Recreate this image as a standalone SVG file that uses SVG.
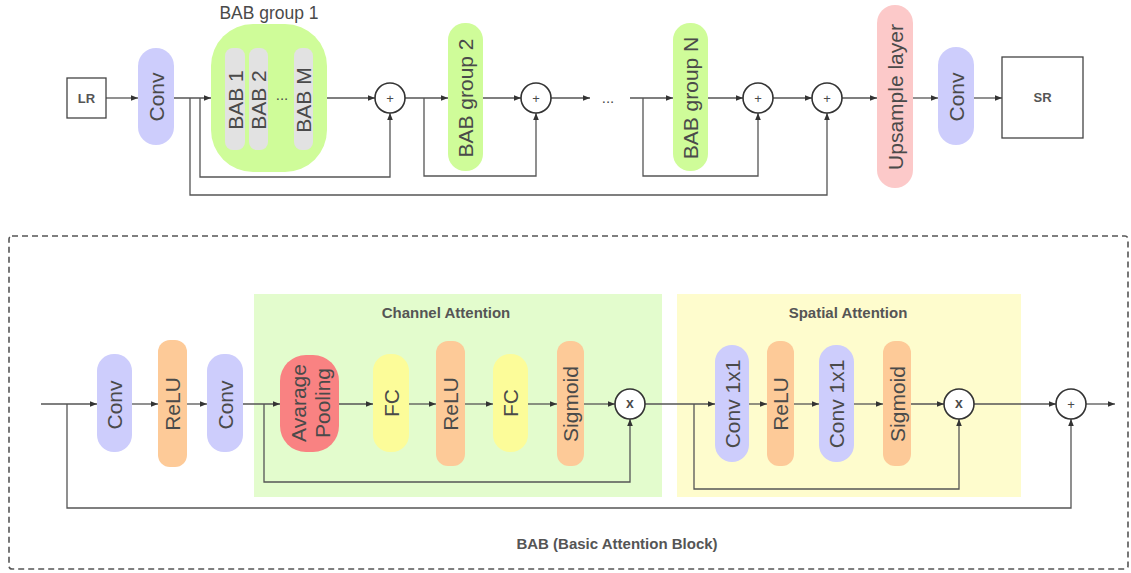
<svg xmlns="http://www.w3.org/2000/svg" width="1131" height="573" viewBox="0 0 1131 573">
<style>
.ln{fill:none;stroke:#555;stroke-width:1.3}
.op{fill:#fff;stroke:#333;stroke-width:1.6}
.t{font-family:"Liberation Sans",Arial,sans-serif;fill:#4a4a4a;text-anchor:middle;dominant-baseline:central}
.v{font-size:21px}
.s{font-size:13px;font-weight:bold;fill:#555}
.h{font-size:15px;font-weight:bold;fill:#555}
.conv{fill:#cdcdfc}
.relu{fill:#fdca98}
.grn{fill:#cffc99}
.gry{fill:#e2e2e2}
.fc{fill:#fcfc99}
</style>
<defs>
<marker id="a" viewBox="0 0 10 10" refX="10" refY="5" markerWidth="7" markerHeight="7" orient="auto" markerUnits="userSpaceOnUse"><path d="M0,1 L10,5 L0,9 z" fill="#333"/></marker>
</defs>
<rect x="9" y="236" width="1119" height="333" fill="none" stroke="#555" stroke-width="1.6" stroke-dasharray="6,4" rx="3"/>
<rect id="ca_bg" x="254" y="294" width="408" height="203" fill="#e3fccd"/>
<rect id="sa_bg" x="677" y="294" width="344" height="203" fill="#fefccd"/>
<text class="t h" x="446" y="312">Channel Attention</text>
<text class="t h" x="848" y="312">Spatial Attention</text>
<text class="t h" x="617" y="543" fill="#666">BAB (Basic Attention Block)</text>

<g id="connectors">
<path class="ln" d="M106,98 H138" marker-end="url(#a)"/>
<path class="ln" d="M174,98 H211" marker-end="url(#a)"/>
<path class="ln" d="M200,98 V177 H390 V113" marker-end="url(#a)"/>
<path class="ln" d="M190,98 V195 H827 V113" marker-end="url(#a)"/>
<path class="ln" d="M327,98 H375" marker-end="url(#a)"/>
<path class="ln" d="M405,98 H448" marker-end="url(#a)"/>
<path class="ln" d="M424,98 V176 H536 V113" marker-end="url(#a)"/>
<path class="ln" d="M483,98 H521" marker-end="url(#a)"/>
<path class="ln" d="M551,98 H590" marker-end="url(#a)"/>
<path class="ln" d="M630,98 H673" marker-end="url(#a)"/>
<path class="ln" d="M643,98 V176 H758 V113" marker-end="url(#a)"/>
<path class="ln" d="M708,98 H743" marker-end="url(#a)"/>
<path class="ln" d="M773,98 H812" marker-end="url(#a)"/>
<path class="ln" d="M842,98 H877" marker-end="url(#a)"/>
<path class="ln" d="M913,98 H938" marker-end="url(#a)"/>
<path class="ln" d="M974,98 H1002" marker-end="url(#a)"/>

<path class="ln" d="M41,404 H97" marker-end="url(#a)"/>
<path class="ln" d="M67,404 V508 H1071 V419" marker-end="url(#a)"/>
<path class="ln" d="M132,404 H158" marker-end="url(#a)"/>
<path class="ln" d="M187,404 H207" marker-end="url(#a)"/>
<path class="ln" d="M243,404 H280" marker-end="url(#a)"/>
<path class="ln" d="M264,404 V482 H630 V419" marker-end="url(#a)"/>
<path class="ln" d="M339,404 H373" marker-end="url(#a)"/>
<path class="ln" d="M409,404 H436" marker-end="url(#a)"/>
<path class="ln" d="M465,404 H493" marker-end="url(#a)"/>
<path class="ln" d="M528,404 H557" marker-end="url(#a)"/>
<path class="ln" d="M584,404 H615" marker-end="url(#a)"/>
<path class="ln" d="M645,404 H715" marker-end="url(#a)"/>
<path class="ln" d="M694,404 V489 H959 V419" marker-end="url(#a)"/>
<path class="ln" d="M749,404 H767" marker-end="url(#a)"/>
<path class="ln" d="M794,404 H819" marker-end="url(#a)"/>
<path class="ln" d="M854,404 H883" marker-end="url(#a)"/>
<path class="ln" d="M911,404 H944" marker-end="url(#a)"/>
<path class="ln" d="M974,404 H1056" marker-end="url(#a)"/>
<path class="ln" d="M1086,404 H1115" marker-end="url(#a)"/>
</g>

<g id="lr"><rect x="67" y="78" width="39" height="40" fill="#fff" stroke="#444" stroke-width="1.3"/><text class="t s" x="86.5" y="98">LR</text></g>
<g id="conv_top1"><rect class="conv" x="138" y="48" width="36" height="97" rx="18"/><text class="t v" transform="translate(156,97) rotate(-90)">Conv</text></g>
<g id="bab_group1">
<rect class="grn" x="211" y="24" width="116" height="148" rx="42"/>
<text class="t" x="269" y="13" font-size="17.5">BAB group 1</text>
<rect class="gry" x="225" y="48" width="20" height="102" rx="8"/>
<text class="t v" transform="translate(235,100) rotate(-90)">BAB 1</text>
<rect class="gry" x="249" y="48" width="19" height="102" rx="8"/>
<text class="t v" transform="translate(258.5,100) rotate(-90)">BAB 2</text>
<text class="t" x="282" y="94" font-size="15">...</text>
<rect class="gry" x="294" y="48" width="19" height="102" rx="8"/>
<text class="t v" transform="translate(303.5,100) rotate(-90)">BAB M</text>
</g>
<g id="add1"><circle class="op" cx="390" cy="98" r="15"/><text class="t" x="390" y="98" font-size="13">+</text></g>
<g id="bab_group2"><rect class="grn" x="448" y="23" width="35" height="148" rx="17"/><text class="t v" transform="translate(465.5,98) rotate(-90)">BAB group 2</text></g>
<g id="add2"><circle class="op" cx="536" cy="98" r="15"/><text class="t" x="536" y="98" font-size="13">+</text></g>
<text class="t" x="608" y="97" font-size="15">...</text>
<g id="bab_groupN"><rect class="grn" x="673" y="23" width="35" height="148" rx="17"/><text class="t v" transform="translate(690.5,98) rotate(-90)">BAB group N</text></g>
<g id="add3"><circle class="op" cx="758" cy="98" r="15"/><text class="t" x="758" y="98" font-size="13">+</text></g>
<g id="add4"><circle class="op" cx="827" cy="98" r="15"/><text class="t" x="827" y="98" font-size="13">+</text></g>
<g id="upsample"><rect x="877" y="5" width="36" height="183" rx="18" fill="#fcc9c9"/><text class="t v" transform="translate(895,97) rotate(-90)">Upsample layer</text></g>
<g id="conv_top2"><rect class="conv" x="938" y="47" width="36" height="98" rx="18"/><text class="t v" transform="translate(956,97) rotate(-90)">Conv</text></g>
<g id="sr"><rect x="1002" y="57" width="81" height="81" fill="#fff" stroke="#444" stroke-width="1.3"/><text class="t s" x="1042.5" y="97.5">SR</text></g>

<g id="b_conv1"><rect class="conv" x="97" y="354" width="35" height="98" rx="17"/><text class="t v" transform="translate(114.5,405) rotate(-90)">Conv</text></g>
<g id="b_relu1"><rect class="relu" x="158" y="340" width="29" height="127" rx="12"/><text class="t v" transform="translate(172.5,404) rotate(-90)">ReLU</text></g>
<g id="b_conv2"><rect class="conv" x="207" y="354" width="36" height="98" rx="17"/><text class="t v" transform="translate(225,405) rotate(-90)">Conv</text></g>
<g id="avgpool"><rect x="280" y="355" width="59" height="97" rx="26" fill="#f98282"/>
<text class="t v" transform="translate(309.5,403) rotate(-90)"><tspan x="0" y="-12">Avarage</tspan><tspan x="0" y="12">Pooling</tspan></text></g>
<g id="fc1"><rect class="fc" x="373" y="354" width="36" height="98" rx="17"/><text class="t v" transform="translate(391,403) rotate(-90)">FC</text></g>
<g id="ca_relu"><rect class="relu" x="436" y="341" width="29" height="125" rx="12"/><text class="t v" transform="translate(450.5,404) rotate(-90)">ReLU</text></g>
<g id="fc2"><rect class="fc" x="493" y="354" width="35" height="98" rx="17"/><text class="t v" transform="translate(510.5,403) rotate(-90)">FC</text></g>
<g id="ca_sigmoid"><rect class="relu" x="557" y="341" width="27" height="125" rx="12"/><text class="t v" transform="translate(570.5,404) rotate(-90)">Sigmoid</text></g>
<g id="mul1"><circle class="op" cx="630" cy="404" r="15"/><text class="t" x="630" y="403" font-size="14" font-weight="bold">x</text></g>
<g id="sa_conv1"><rect class="conv" x="715" y="345" width="34" height="117" rx="17"/><text class="t v" transform="translate(732,404) rotate(-90)">Conv 1x1</text></g>
<g id="sa_relu"><rect class="relu" x="767" y="341" width="27" height="125" rx="12"/><text class="t v" transform="translate(780.5,404) rotate(-90)">ReLU</text></g>
<g id="sa_conv2"><rect class="conv" x="819" y="345" width="35" height="117" rx="17"/><text class="t v" transform="translate(836.5,404) rotate(-90)">Conv 1x1</text></g>
<g id="sa_sigmoid"><rect class="relu" x="883" y="341" width="28" height="125" rx="12"/><text class="t v" transform="translate(897,404) rotate(-90)">Sigmoid</text></g>
<g id="mul2"><circle class="op" cx="959" cy="404" r="15"/><text class="t" x="959" y="403" font-size="14" font-weight="bold">x</text></g>
<g id="add_b"><circle class="op" cx="1071" cy="404" r="15"/><text class="t" x="1071" y="404" font-size="13">+</text></g>
</svg>
